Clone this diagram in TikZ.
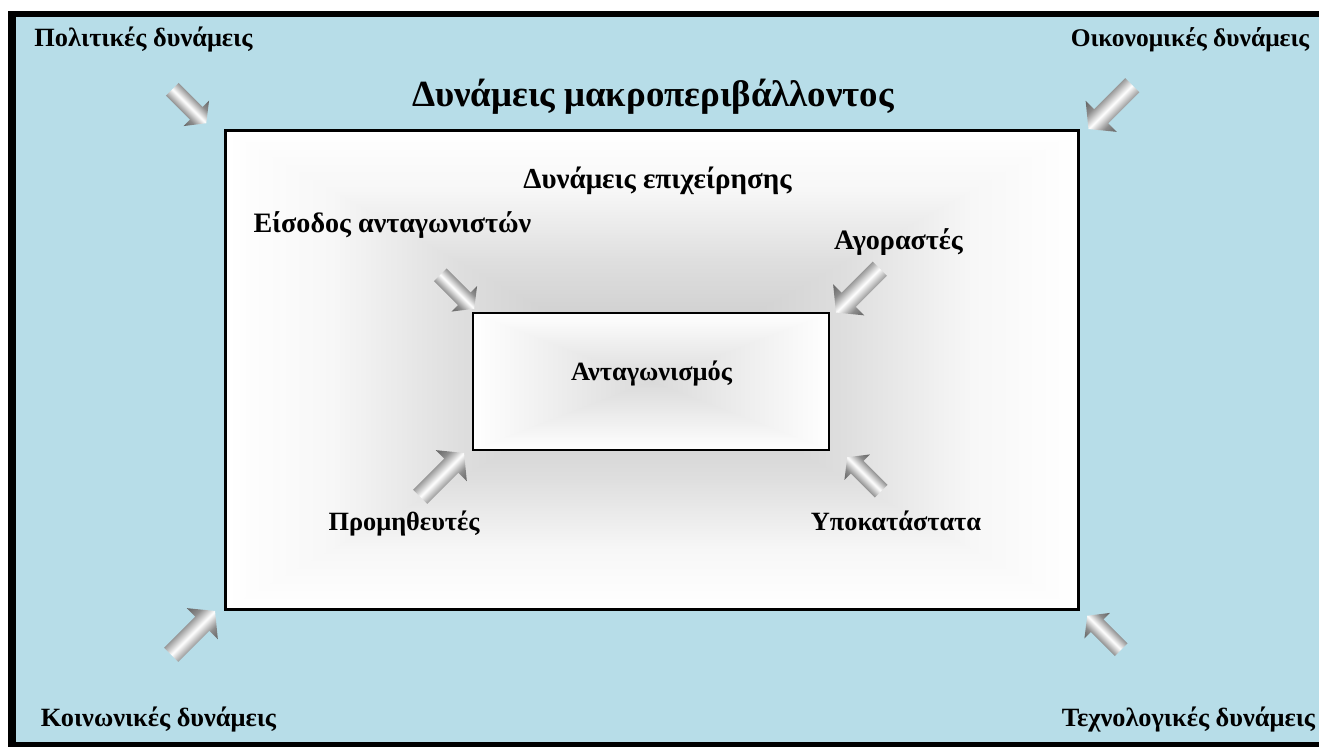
\documentclass[tikz,border=0pt]{standalone}
\usepackage{fontspec}
\setmainfont{Liberation Serif}
\usetikzlibrary{positioning}
\definecolor{envblue}{HTML}{B7DDE8}
\definecolor{arrowdark}{HTML}{626262}
\definecolor{arrowmid}{HTML}{8C8C8C}
\definecolor{firmgray}{HTML}{C4C4C4}
\definecolor{firmlight}{HTML}{DEDEDE}
\definecolor{firmpale}{HTML}{F7F7F7}
\definecolor{rivalgray}{HTML}{DADADA}
\pgfdeclareverticalshading{forceshade}{100bp}{color(0bp)=(arrowdark); color(25bp)=(arrowdark); color(37bp)=(arrowmid); color(50bp)=(white); color(63bp)=(arrowmid); color(75bp)=(arrowdark); color(100bp)=(arrowdark)}
\pgfdeclareverticalshading{firmacross}{100bp}{color(0bp)=(white); color(25bp)=(white); color(31.25bp)=(firmpale); color(38.75bp)=(firmlight); color(50bp)=(firmgray); color(61.25bp)=(firmlight); color(68.75bp)=(firmpale); color(75bp)=(white); color(100bp)=(white)}
\pgfdeclareverticalshading{firmedge}{100bp}{color(0bp)=(firmgray); color(25bp)=(firmgray); color(47.5bp)=(firmlight); color(62.5bp)=(firmpale); color(75bp)=(white); color(100bp)=(white)}
\pgfdeclareverticalshading{rivalacross}{100bp}{color(0bp)=(white); color(25bp)=(white); color(50bp)=(rivalgray); color(75bp)=(white); color(100bp)=(white)}

% block arrow: back centre, angle, shaft half width, head start, head half width, tip
\newcommand{\forcearrow}[7]{%
  \begin{scope}[transform canvas={shift={(#1,#2)},rotate=#3}]
    \shade[shading=forceshade] (0,-#4) -- (#5,-#4) -- (#5,-#6) -- (#7,0)
      -- (#5,#6) -- (#5,#4) -- (0,#4) -- cycle;
  \end{scope}}
\newcommand{\smallforce}[3]{\forcearrow{#1}{#2}{#3}{9}{34}{18}{48}}
\newcommand{\largeforce}[3]{\forcearrow{#1}{#2}{#3}{10}{44}{22}{62}}

\begin{document}
\begin{tikzpicture}[x=0.02cm,y=-0.02cm,
  force/.style={font=\fontsize{15}{17}\selectfont\bfseries,anchor=base,inner sep=0pt},
  bigforce/.style={force,font=\fontsize{16}{18}\selectfont\bfseries},
  title/.style={font=\fontsize{21}{25}\selectfont\bfseries,anchor=base,inner sep=0pt},
  frame/.style={draw,line width=1.7pt,inner sep=0pt,minimum width=853*0.02cm,minimum height=479*0.02cm},
  core/.style={draw,line width=1.1pt,inner sep=0pt,minimum width=356*0.02cm,minimum height=137*0.02cm}
]
  \useasboundingbox (0,0) rectangle (1319,747);
  \clip (0,0) rectangle (1319,747);
  \fill[black] (8,11) rectangle (1319,747);
  \fill[envblue] (16,17) rectangle (1319,742);

  % company box with rectangular gradient
  \coordinate (firmc) at (652,370);
  \path (225.5,130.5) coordinate (fnw) (1078.5,130.5) coordinate (fne)
        (1078.5,609.5) coordinate (fse) (225.5,609.5) coordinate (fsw);
  \shade[shading=firmacross,shading angle=90] (fnw) rectangle (fse);
  \shade[shading=firmedge] (fnw) -- (fne) -- (firmc) -- cycle;
  \shade[shading=firmedge,shading angle=180] (fsw) -- (fse) -- (firmc) -- cycle;
  \node[frame] (firm) at (652,370) {};

  % competition box
  \coordinate (rivalc) at (651,381.5);
  \path (473,313) coordinate (rnw) (829,313) coordinate (rne)
        (829,450) coordinate (rse) (473,450) coordinate (rsw);
  \shade[shading=rivalacross,shading angle=90] (rnw) rectangle (rse);
  \shade[top color=white,bottom color=rivalgray] (rnw) -- (rne) -- (rivalc) -- cycle;
  \shade[top color=rivalgray,bottom color=white] (rsw) -- (rse) -- (rivalc) -- cycle;
  \node[core] (rival) at (rivalc) {};

  % macro forces
  \smallforce{172.3}{89.3}{-45}
  \largeforce{1132.3}{85.2}{-135}
  \largeforce{171.2}{654.8}{45}
  \smallforce{1121.2}{649.7}{135}
  % industry forces
  \smallforce{440.3}{274.8}{-45}
  \largeforce{879.8}{268.7}{-135}
  \largeforce{420.2}{496.8}{45}
  \smallforce{881.2}{491.2}{135}

  \node[force] (pol) at (143.5,46) {Πολιτικές δυνάμεις};
  \node[force,font=\fontsize{14.5}{17}\selectfont\bfseries] (eco) at (1190,46) {Οικονομικές δυνάμεις};
  \node[force] (soc) at (158.5,726) {Κοινωνικές δυνάμεις};
  \node[force] (tec) at (1188.5,726) {Τεχνολογικές δυνάμεις};
  \node[title] (macro) at (653,106) {Δυνάμεις μακροπεριβάλλοντος};
  \node[bigforce,font=\fontsize{16.5}{19}\selectfont\bfseries] (firmt) at (657.5,188) {Δυνάμεις επιχείρησης};
  \node[bigforce] (entry) at (392.5,232) {Είσοδος ανταγωνιστών};
  \node[bigforce] (buy) at (898.5,249) {Αγοραστές};
  \node[force] (rivt) at (651.5,380) {Ανταγωνισμός};
  \node[force] (sup) at (404,530) {Προμηθευτές};
  \node[force] (subst) at (896,530) {Υποκατάστατα};
\end{tikzpicture}
\end{document}
